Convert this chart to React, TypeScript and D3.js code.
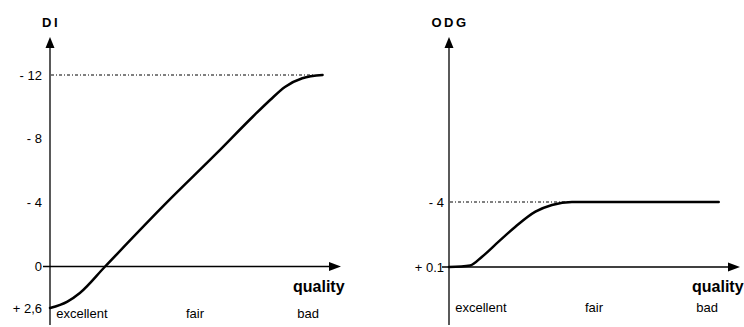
import React from 'react';
import * as d3 from 'd3';

// DI panel
const diTickValues = [2.6, 0, -4, -8, -12];
const diTickLabels = ['+ 2,6', '0', '- 4', '- 8', '- 12'];
const diCurveX = [0, 6, 10.3, 19, 40.2, 57.5, 70, 76, 81, 87, 94];
const diCurveY = [2.6, 2.2, 1.66, 0, -4, -7.1, -9.4, -10.45, -11.25, -11.8, -12];

// ODG panel
const odgTickValues = [0.1, -4];
const odgTickLabels = ['+ 0.1', '- 4'];
const odgCurveX = [0, 7.3, 11.4, 17.1, 22.9, 29.8, 35.5, 42.4, 93];
const odgCurveY = [0.1, 0, -0.55, -1.5, -2.44, -3.39, -3.81, -4, -4];

// shared quality axis
const qualityLabels = ['excellent', 'fair', 'bad'];
const qualityPos = [11, 50, 89];

const FONT = '"Liberation Sans", Arial, sans-serif';

interface PanelProps {
  title: string;
  left: number;
  yDomain: [number, number];
  yRange: [number, number];
  tickValues: number[];
  tickLabels: string[];
  curveX: number[];
  curveY: number[];
  baseValue: number;
  refValue: number;
  refEndX: number;
  catBaseline: number;
  tickDx: number;
}

function Panel(p: PanelProps) {
  const x = d3.scaleLinear().domain([0, 100]).range([p.left, p.left + 290]);
  const y = d3.scaleLinear().domain(p.yDomain).range(p.yRange);
  const axisX = x(0);
  const axisY = y(p.baseValue);
  const tipX = x(100) + 1;
  const tipY = 37;

  const pts = p.curveX.map((v, i) => [v, p.curveY[i]] as [number, number]);
  const line = d3.line<[number, number]>()
    .x(d => x(d[0]))
    .y(d => y(d[1]))
    .curve(d3.curveMonotoneX);

  return (
    <g>
      {/* title */}
      <text x={axisX + 1} y={27} textAnchor="middle" fontFamily={FONT} fontWeight="bold"
        fontSize={13} letterSpacing={2.5}>{p.title}</text>

      {/* y axis */}
      <line x1={axisX} x2={axisX} y1={325} y2={tipY + 6} stroke="#000" strokeWidth={1.3} />
      <path d={`M${axisX},${tipY} L${axisX - 4.5},${tipY + 11} L${axisX + 4.5},${tipY + 11} Z`} fill="#000" />

      {/* x axis */}
      <line x1={axisX - 7} x2={tipX - 6} y1={axisY} y2={axisY} stroke="#000" strokeWidth={1.3} />
      <path d={`M${tipX},${axisY} L${tipX - 12},${axisY - 4.5} L${tipX - 12},${axisY + 4.5} Z`} fill="#000" />

      {/* reference dotted line */}
      <line x1={axisX + 1} x2={x(p.refEndX)} y1={y(p.refValue)} y2={y(p.refValue)}
        stroke="#000" strokeWidth={1} strokeDasharray="3,2,1,2" />

      {/* tick labels */}
      {p.tickValues.map((v, i) => (
        <text key={i} x={axisX + p.tickDx} y={y(v) + 4.5} textAnchor="end"
          fontFamily={FONT} fontSize={13}>{p.tickLabels[i]}</text>
      ))}

      {/* curve */}
      <path d={line(pts) || ''} fill="none" stroke="#000" strokeWidth={2.5} strokeLinecap="round" />

      {/* quality label */}
      <text x={tipX - 48} y={axisY + 25} fontFamily={FONT} fontWeight="bold" fontSize={16}>quality</text>

      {/* categories */}
      {qualityLabels.map((c, i) => (
        <text key={c} x={x(qualityPos[i])} y={p.catBaseline} textAnchor="middle"
          fontFamily={FONT} fontSize={13}>{c}</text>
      ))}
    </g>
  );
}

export default function App() {
  return (
    <svg width={744} height={327} style={{ position: 'absolute', left: 0, top: 0, background: '#fff' }}>
      <rect width={744} height={327} fill="#fff" />
      <Panel
        title="DI"
        left={50}
        yDomain={[2.6, -12]}
        yRange={[308, 75]}
        tickValues={diTickValues}
        tickLabels={diTickLabels}
        curveX={diCurveX}
        curveY={diCurveY}
        baseValue={0}
        refValue={-12}
        refEndX={91}
        catBaseline={318}
        tickDx={-8}
      />
      <Panel
        title="ODG"
        left={449}
        yDomain={[0.1, -4]}
        yRange={[267, 202]}
        tickValues={odgTickValues}
        tickLabels={odgTickLabels}
        curveX={odgCurveX}
        curveY={odgCurveY}
        baseValue={0.1}
        refValue={-4}
        refEndX={42.4}
        catBaseline={311.5}
        tickDx={-5}
      />
    </svg>
  );
}
